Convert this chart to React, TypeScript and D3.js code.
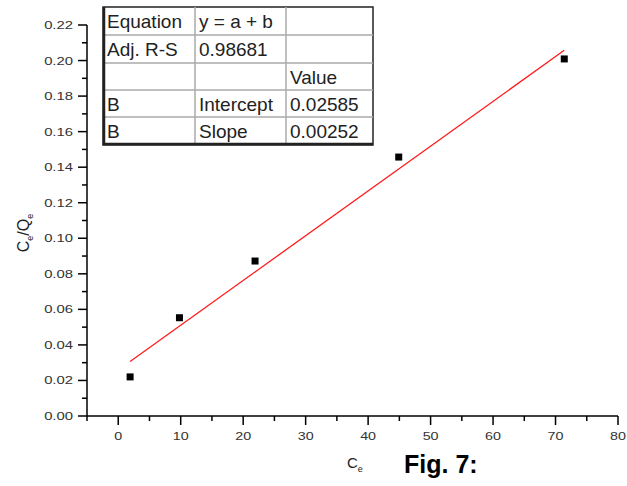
import React from "react";
import * as d3 from "d3";

const xValues = [1.9, 9.8, 21.9, 44.9, 71.4];
const yValues = [0.022, 0.0553, 0.0872, 0.1457, 0.2009];
const intercept = 0.02585;
const slope = 0.00252;
const xTicks = [0, 10, 20, 30, 40, 50, 60, 70, 80];
const xMinorTicks = [-5, 5, 15, 25, 35, 45, 55, 65, 75];
const yTicks = [0, 0.02, 0.04, 0.06, 0.08, 0.1, 0.12, 0.14, 0.16, 0.18, 0.2, 0.22];
const yMinorTicks = [0.01, 0.03, 0.05, 0.07, 0.09, 0.11, 0.13, 0.15, 0.17, 0.19, 0.21];
const tableRows = [
  ["Equation", "y = a + b", ""],
  ["Adj. R-S", "0.98681", ""],
  ["", "", "Value"],
  ["B", "Intercept", "0.02585"],
  ["B", "Slope", "0.00252"],
];

const W = 627;
const H = 486;
const FONT = "'Liberation Sans', Arial, sans-serif";

export default function App() {
  const x = d3.scaleLinear().domain([-5, 80]).range([87, 618]);
  const y = d3.scaleLinear().domain([0, 0.22]).range([416, 25]);
  const x0 = d3.min(xValues)!;
  const x1 = d3.max(xValues)!;
  const fitLine = d3
    .line<number>()
    .x((d) => x(d))
    .y((d) => y(intercept + slope * d))([x0, x1]);

  const colEdges = [103, 195, 286, 373];
  const rowEdges = [7, 35, 63, 90, 117, 145];

  return (
    <div style={{ position: "fixed", left: 0, top: 0 }}>
      <svg width={W} height={H} style={{ display: "block", background: "#fff" }}>
        {/* fit line */}
        <path d={fitLine!} fill="none" stroke="#ff1a1a" strokeWidth={1.3} />
        {/* points */}
        {xValues.map((xv, i) => (
          <rect key={i} x={x(xv) - 3.5} y={y(yValues[i]) - 3.5} width={7} height={7} fill="#000" />
        ))}
        {/* axes */}
        <line x1={x(-5)} x2={x(80)} y1={y(0)} y2={y(0)} stroke="#000" strokeWidth={1.5} />
        <line x1={x(-5)} x2={x(-5)} y1={y(0.22)} y2={y(0)} stroke="#000" strokeWidth={1.5} />
        {xTicks.map((t) => (
          <g key={"xt" + t}>
            <line x1={x(t)} x2={x(t)} y1={y(0)} y2={y(0) + 9} stroke="#000" strokeWidth={1.5} />
            <text
              transform={`translate(${x(t)},440) scale(1.3,1)`}
              textAnchor="middle"
              fontSize={11}
              fontFamily={FONT}
              fill="#333"
            >
              {t}
            </text>
          </g>
        ))}
        {xMinorTicks.map((t) => (
          <line key={"xm" + t} x1={x(t)} x2={x(t)} y1={y(0)} y2={y(0) + 5} stroke="#000" strokeWidth={1.5} />
        ))}
        {yTicks.map((t) => (
          <g key={"yt" + t}>
            <line x1={x(-5) - 9} x2={x(-5)} y1={y(t)} y2={y(t)} stroke="#000" strokeWidth={1.5} />
            <text
              transform={`translate(73,${y(t) + 4}) scale(1.35,1)`}
              textAnchor="end"
              fontSize={11}
              fontFamily={FONT}
              fill="#333"
            >
              {d3.format(".2f")(t)}
            </text>
          </g>
        ))}
        {yMinorTicks.map((t) => (
          <line key={"ym" + t} x1={x(-5) - 5} x2={x(-5)} y1={y(t)} y2={y(t)} stroke="#000" strokeWidth={1.5} />
        ))}
        {/* axis titles */}
        <text
          transform="translate(29,233) rotate(-90)"
          textAnchor="middle"
          fontSize={16}
          fontFamily={FONT}
          fill="#222"
        >
          C<tspan fontSize={9} dy={4}>e</tspan>
          <tspan dy={-4}>/Q</tspan>
          <tspan fontSize={9} dy={4}>e</tspan>
        </text>
        <text x={347} y={468} fontSize={15} fontFamily={FONT} fill="#222">
          C<tspan fontSize={9} dy={4}>e</tspan>
        </text>
        <text x={404} y={473} fontSize={25} fontWeight="bold" fontFamily={FONT} fill="#000">
          Fig. 7:
        </text>
        {/* table */}
        <rect
          x={colEdges[0]}
          y={rowEdges[0]}
          width={colEdges[3] - colEdges[0]}
          height={rowEdges[5] - rowEdges[0]}
          fill="#fff"
          stroke="#222"
          strokeWidth={1.5}
        />
        {rowEdges.slice(1, 5).map((ry) => (
          <line key={"r" + ry} x1={colEdges[0]} x2={colEdges[3]} y1={ry} y2={ry} stroke="#aaa" strokeWidth={1.5} />
        ))}
        {colEdges.slice(1, 3).map((cx) => (
          <line key={"c" + cx} x1={cx} x2={cx} y1={rowEdges[0]} y2={rowEdges[5]} stroke="#aaa" strokeWidth={1.5} />
        ))}
        <line x1={colEdges[0] + 1} x2={colEdges[0] + 1} y1={rowEdges[0]} y2={rowEdges[5]} stroke="#222" strokeWidth={2.5} />
        <line x1={colEdges[0]} x2={colEdges[3]} y1={rowEdges[5] - 1} y2={rowEdges[5] - 1} stroke="#222" strokeWidth={2.5} />
        {tableRows.map((row, ri) =>
          row.map((cell, ci) =>
            cell ? (
              <text
                key={ri + "-" + ci}
                x={colEdges[ci] + 4}
                y={rowEdges[ri] + 21}
                fontSize={19}
                fontFamily={FONT}
                fill="#222"
              >
                {cell}
              </text>
            ) : null
          )
        )}
      </svg>
    </div>
  );
}
